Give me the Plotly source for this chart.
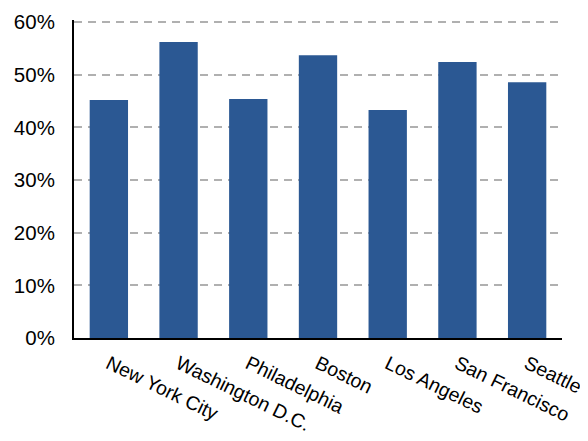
import plotly.graph_objects as go

cities = ["New York City", "Washington D.C.", "Philadelphia", "Boston",
          "Los Angeles", "San Francisco", "Seattle"]
shares = [0.452, 0.562, 0.454, 0.537, 0.433, 0.524, 0.486]
y_ticks = [0, 0.1, 0.2, 0.3, 0.4, 0.5, 0.6]
y_tick_labels = ["0%", "10%", "20%", "30%", "40%", "50%", "60%"]

fig = go.Figure(go.Bar(x=cities, y=shares, marker_color="#2B5893",
                       marker_line_width=0))

xfont = dict(family="Liberation Sans, Arial, sans-serif", size=19.5, color="#000")
yfont = dict(family="Liberation Sans, Arial, sans-serif", size=20.5, color="#000")
fig.update_layout(
    width=588, height=441,
    margin=dict(l=66, r=34, t=12, b=111),
    plot_bgcolor="white", paper_bgcolor="white",
    bargap=0.45, showlegend=False, font=xfont,
)
fig.update_xaxes(tickangle=26, showline=True, linecolor="black", linewidth=2,
                 ticks="", showgrid=False, tickfont=xfont, ticklabelstandoff=5,
                 automargin=False)
fig.update_yaxes(range=[0, 0.604], tickvals=y_ticks, ticktext=y_tick_labels,
                 showline=True, linecolor="black", linewidth=2, ticks="",
                 showgrid=True, gridcolor="#B0B0B0", griddash="8px,6px", gridwidth=2,
                 zeroline=False, tickfont=yfont, ticklabelstandoff=13,
                 automargin=False)
fig.write_html("out.html")
